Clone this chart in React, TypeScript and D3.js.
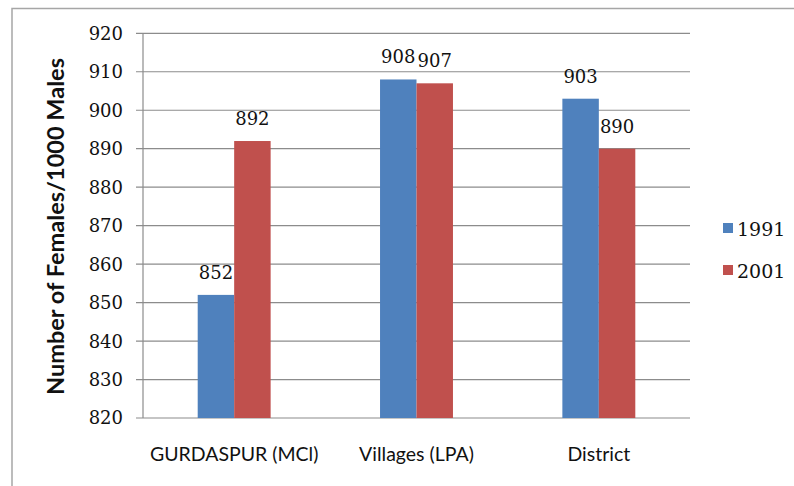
import React from "react";
import * as d3 from "d3";

const categories = ["GURDASPUR (MCl)", "Villages (LPA)", "District"];
const seriesNames = ["1991", "2001"];
const values1991 = [852, 908, 903];
const values2001 = [892, 907, 890];
const yTicks = [820, 830, 840, 850, 860, 870, 880, 890, 900, 910, 920];
const colors = ["#4F81BD", "#C0504D"];
const yTitle = "Number of Females/1000 Males";

const W = 794;
const H = 486;
const plot = { left: 143, right: 690, top: 33.3, bottom: 418 };
const numFont = "'DejaVu Serif', serif";
const sansFont = "Lato, 'Open Sans', sans-serif";

export default function App() {
  const x = d3.scaleBand<string>().domain(categories).range([plot.left, plot.right]).paddingInner(0).paddingOuter(0);
  const barW = x.bandwidth() * 0.2;
  const y = d3.scaleLinear().domain([820, 920]).range([plot.bottom, plot.top]);
  const series = [values1991, values2001];

  return (
    <svg width={W} height={H} style={{ position: "absolute", left: 0, top: 0, background: "#fff" }}>
      <rect x={12} y={8.5} width={W + 20} height={H + 20} fill="#fff" stroke="#a6a6a6" strokeWidth={1.5} />
      {yTicks.map((t) => (
        <g key={t}>
          <line x1={plot.left - 7} x2={plot.right} y1={y(t)} y2={y(t)} stroke="#8c8c8c" strokeWidth={1.2} />
          <text x={123} y={y(t)} dy="0.36em" textAnchor="end" fontFamily={numFont} fontSize={18} fill="#111">
            {t}
          </text>
        </g>
      ))}
      <line x1={plot.left} x2={plot.left} y1={plot.top} y2={plot.bottom} stroke="#8c8c8c" strokeWidth={1.2} />
      {series.map((vals, si) =>
        vals.map((v, ci) => {
          const cx = (x(categories[ci]) as number) + x.bandwidth() / 2;
          const bx = cx - barW + si * barW;
          return (
            <g key={`${si}-${ci}`}>
              <rect x={bx} y={y(v)} width={barW} height={plot.bottom - y(v)} fill={colors[si]} />
              <text x={bx + barW / 2} y={y(v) - 16} textAnchor="middle" fontFamily={numFont} fontSize={18} fill="#111">
                {v}
              </text>
            </g>
          );
        })
      )}
      {categories.map((c) => (
        <text key={c} x={(x(c) as number) + x.bandwidth() / 2} y={461} textAnchor="middle" fontFamily={sansFont} fontSize={19.5} fill="#111">
          {c}
        </text>
      ))}
      <text
        transform={`translate(64, ${(58 + 395) / 2}) rotate(-90)`}
        textAnchor="middle"
        fontFamily={sansFont}
        fontWeight="bold"
        fontSize={23}
        textLength={337}
        lengthAdjust="spacingAndGlyphs"
        fill="#111"
      >
        {yTitle}
      </text>
      {seriesNames.map((s, i) => (
        <g key={s}>
          <rect x={723} y={223 + i * 42} width={10} height={10} fill={colors[i]} />
          <text x={737} y={236 + i * 42} fontFamily={numFont} fontSize={19} fill="#111">
            {s}
          </text>
        </g>
      ))}
    </svg>
  );
}
